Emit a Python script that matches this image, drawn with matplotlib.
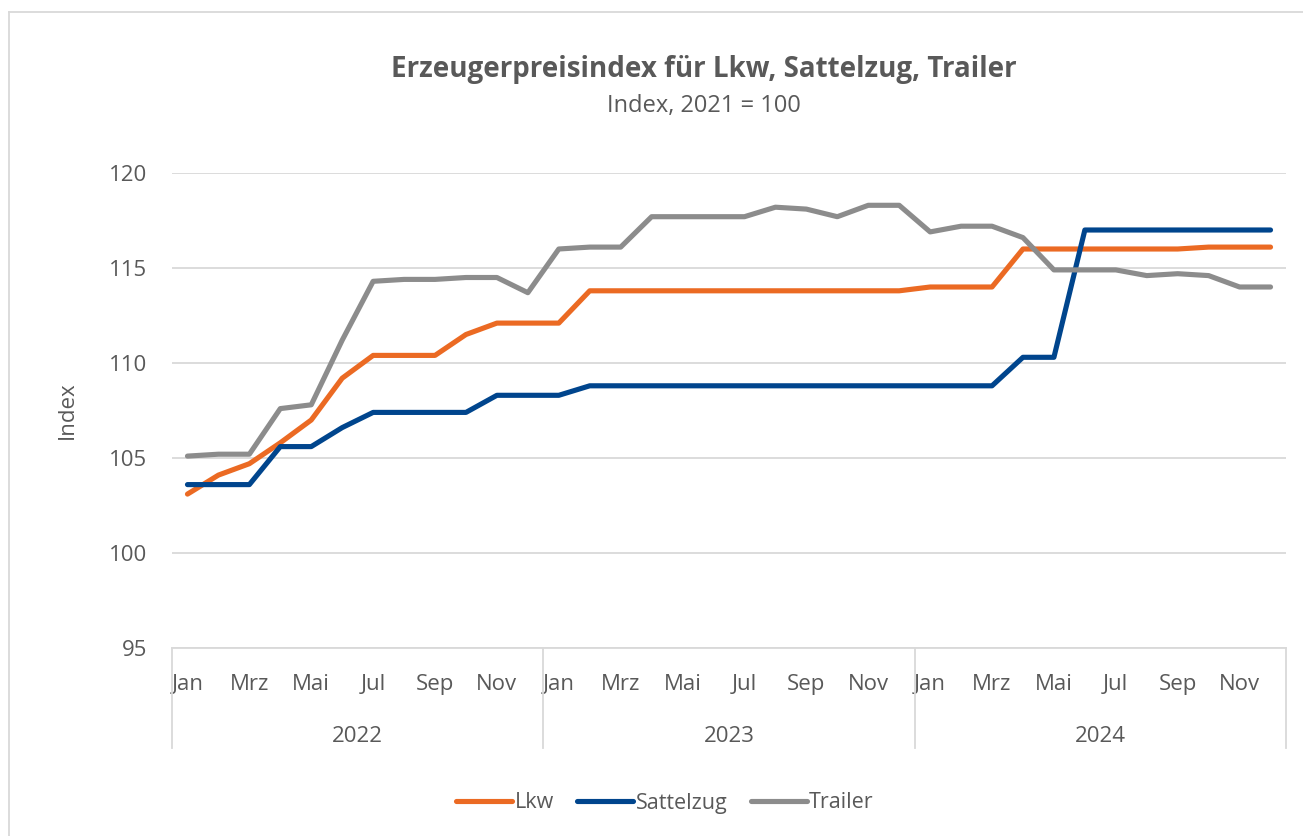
import matplotlib.pyplot as plt
from matplotlib.lines import Line2D
import matplotlib.transforms as mtransforms

plt.rcParams['font.family'] = ['Open Sans', 'DejaVu Sans']

months = ["Jan", "Feb", "Mrz", "Apr", "Mai", "Jun",
          "Jul", "Aug", "Sep", "Okt", "Nov", "Dez"]
years = ["2022", "2023", "2024"]

lkw = [103.1, 104.1, 104.7, 105.8, 107.0, 109.2, 110.4, 110.4, 110.4, 111.5, 112.1, 112.1,
       112.1, 113.8, 113.8, 113.8, 113.8, 113.8, 113.8, 113.8, 113.8, 113.8, 113.8, 113.8,
       114.0, 114.0, 114.0, 116.0, 116.0, 116.0, 116.0, 116.0, 116.0, 116.1, 116.1, 116.1]
sattelzug = [103.6, 103.6, 103.6, 105.6, 105.6, 106.6, 107.4, 107.4, 107.4, 107.4, 108.3, 108.3,
             108.3, 108.8, 108.8, 108.8, 108.8, 108.8, 108.8, 108.8, 108.8, 108.8, 108.8, 108.8,
             108.8, 108.8, 108.8, 110.3, 110.3, 117.0, 117.0, 117.0, 117.0, 117.0, 117.0, 117.0]
trailer = [105.1, 105.2, 105.2, 107.6, 107.8, 111.2, 114.3, 114.4, 114.4, 114.5, 114.5, 113.7,
           116.0, 116.1, 116.1, 117.7, 117.7, 117.7, 117.7, 118.2, 118.1, 117.7, 118.3, 118.3,
           116.9, 117.2, 117.2, 116.6, 114.9, 114.9, 114.9, 114.6, 114.7, 114.6, 114.0, 114.0]

series = [("Lkw", lkw, "#EB6A23"),
          ("Sattelzug", sattelzug, "#00458D"),
          ("Trailer", trailer, "#8C8C8C")]

text_col = "#595959"
grid_col = "#D9D9D9"

W, H = 1303, 836
fig = plt.figure(figsize=(W / 100, H / 100), dpi=100)
ax = fig.add_axes([172 / W, 1 - 648 / H, (1286 - 172) / W, (648 - 173) / H])

x = list(range(len(lkw)))
for name, vals, col in series:
    ax.plot(x, vals, color=col, lw=3.7, label=name, solid_capstyle="round",
            solid_joinstyle="round")

ax.set_xlim(-0.5, len(x) - 0.5)
ax.set_ylim(95, 120)
ax.set_yticks(range(95, 121, 5))
ax.yaxis.grid(True, color=grid_col, lw=1.3)
ax.set_axisbelow(True)
for s in ["top", "right", "left"]:
    ax.spines[s].set_visible(False)
ax.spines["bottom"].set_color(grid_col)
ax.spines["bottom"].set_linewidth(1.3)
ax.tick_params(axis="y", length=0, pad=18, labelsize=16, labelcolor=text_col)

tick_pos = [i for i in x if i % 2 == 0]
ax.set_xticks(tick_pos)
ax.set_xticklabels([months[i % 12] for i in tick_pos])
ax.tick_params(axis="x", length=0, pad=19, labelsize=16, labelcolor=text_col)

ax.set_ylabel("Index", fontsize=16, color=text_col, labelpad=22)

# year level of the category axis
trans = mtransforms.blended_transform_factory(ax.transData, ax.transAxes)
sep_low = -(748 - 648) / (648 - 173)
for k in range(len(years) + 1):
    ax.add_line(Line2D([12 * k - 0.5] * 2, [0, sep_low], transform=trans,
                       color=grid_col, lw=1.3, clip_on=False))
for k, yr in enumerate(years):
    ax.text(12 * k + 5.5, -(736 - 648) / (648 - 173), yr, transform=trans,
            ha="center", va="center", fontsize=16, color=text_col)

fig.text(704 / W, 1 - 70 / H, "Erzeugerpreisindex für Lkw, Sattelzug, Trailer",
         ha="center", va="center", fontsize=20, fontweight="bold", color=text_col)
fig.text(704 / W, 1 - 106 / H, "Index, 2021 = 100",
         ha="center", va="center", fontsize=17, color=text_col)

fig.legend(loc="center", bbox_to_anchor=(665 / W, 1 - 803 / H), ncol=3, frameon=False,
           fontsize=15.5, labelcolor=text_col, handlelength=2.6, handletextpad=0.1,
           columnspacing=1.1)

# outer chart border
fig.add_artist(Line2D([9 / W, 1], [1 - 12 / H] * 2, transform=fig.transFigure,
                      color=grid_col, lw=1.3))
fig.add_artist(Line2D([9 / W] * 2, [0, 1 - 12 / H], transform=fig.transFigure,
                      color=grid_col, lw=1.3))

fig.savefig("out.png", dpi=100, facecolor="white")
